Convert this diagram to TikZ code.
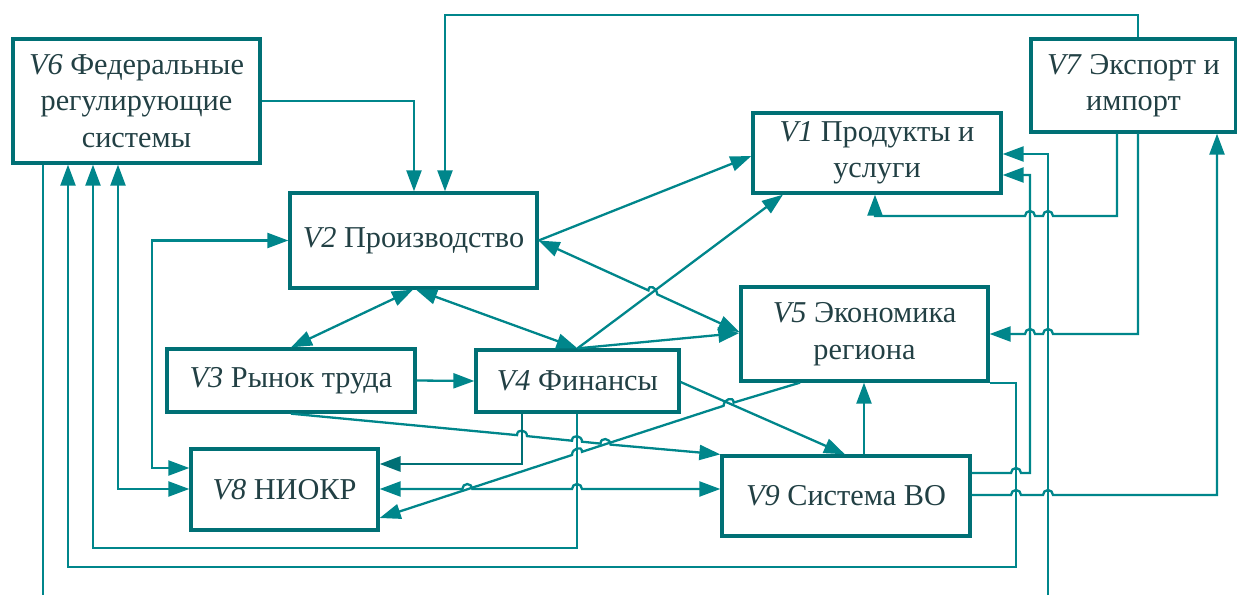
\documentclass[tikz,border=0pt]{standalone}
\usepackage{fontspec}
\setmainfont{Liberation Serif}
\usetikzlibrary{arrows.meta}
\definecolor{ln}{RGB}{0,134,139}
\definecolor{bx}{RGB}{0,112,117}
\definecolor{tx}{RGB}{34,64,68}
\begin{document}
\begin{tikzpicture}[x=1pt,y=-1pt,
  >={Triangle[length=21pt,width=15pt]},
  box/.style={draw=bx, line width=3.3pt, text=tx, align=center, inner sep=0pt,
    font=\fontsize{30.3}{36.5}\selectfont},
  conn/.style={draw=ln, fill=none, line width=2.3pt}]
\useasboundingbox (0,0) rectangle (1237,595);
\node[box, minimum width=247pt, minimum height=124pt] (V6) at (136.5,101) {\textit{V6} Федеральные\\регулирующие\\системы};
\node[box, minimum width=247pt, minimum height=95pt] (V2) at (413.5,240.5) {\textit{V2} Производство};
\node[box, minimum width=248pt, minimum height=80pt] (V1) at (877,153) {\textit{V1} Продукты и\\услуги};
\node[box, minimum width=205pt, minimum height=93pt] (V7) at (1133.5,85.5) {\textit{V7} Экспорт и\\импорт};
\node[box, minimum width=247pt, minimum height=94pt] (V5) at (864.5,334) {\textit{V5} Экономика\\региона};
\node[box, minimum width=248pt, minimum height=63pt] (V3) at (291,380.5) {\textit{V3} Рынок труда};
\node[box, minimum width=203pt, minimum height=62pt] (V4) at (577.5,381) {\textit{V4} Финансы};
\node[box, minimum width=187pt, minimum height=81pt] (V8) at (284.5,489.5) {\textit{V8} НИОКР};
\node[box, minimum width=248pt, minimum height=80pt] (V9) at (846,496) {\textit{V9} Система ВО};
\coordinate (out1) at (43,595);
\coordinate (in1) at (1048,595);
% top connectors
\draw[conn,->] (V6.east |- 0,101) -| (V2.north -| 414,0);
\draw[conn,->] (V7.north -| 1138,0) |- (445,15) -- (V2.north -| 445,0);
% V2 links
\draw[conn,->] (V2.east) -- (V1.west |- 0,156);
\draw[conn,<->] (V2.east) -- (648.4,290.4) .. controls +(0,-6.7) and +(0,-6.7) .. (657.4,294.4) -- (V5.west |- 0,332);
\draw[conn,<->] (V2.south -| 413,0) -- (V3.north);
\draw[conn,<->] (V2.south -| 416,0) -- (V4.north);
% V4 links
\draw[conn,->] (V4.north) -- (V1.south -| 783,0);
\draw[conn,->] (V4.north) -- (V5.west |- 0,333);
\draw[conn,->] (V3.east) -- (V4.west);
\draw[conn,->] (V3.south) -- (517,435.1) .. controls +(0,-6.7) and +(0,-6.7) .. (527,436.1)
  -- (572,440.7) .. controls +(0,-6.7) and +(0,-6.7) .. (582,441.7)
  -- (600.5,443.6) .. controls +(0,-6.7) and +(0,-6.7) .. (610.5,444.6) -- (V9.north west);
\draw[conn,->,draw=bx,line width=2.9pt] (V4.south -| 522,0) |- (V8.east |- 0,464);
\draw[conn,<->] (V8.east |- 0,489) -- (462.3,489) arc[start angle=180,end angle=360,radius=5]
  -- (572,489) arc[start angle=180,end angle=360,radius=5] -- (V9.west |- 0,489);
\draw[conn,->] (V5.south -| 800,0) -- (733.6,402.6) .. controls +(0,-6.7) and +(0,-6.7) .. (723.6,405.8)
  -- (582,451.8) .. controls +(0,-6.7) and +(0,-6.7) .. (572,455.0) -- (V8.east |- 0,518);
\draw[conn,->] (V4.east |- 0,382) -- (V9.north -| 845,0);
\draw[conn,->] (V9.north -| 864,0) -- (V5.south -| 864,0);
% feedback to V6
\draw[conn,->] (V4.south -| 577,0) -- (577,548) -| (V6.south -| 93,0);
\draw[conn,->] (V5.south east) -| (1016,567) -| (V6.south -| 68,0);
\draw[conn] (V6.south -| 43,0) -- (out1);
\draw[conn,<->] (V2.west) -| (152,468) -- (V8.west |- 0,468);
\draw[conn,<->] (V6.south -| 118,0) |- (V8.west |- 0,489);
% right side
\draw[conn,->] (V7.south -| 1117,0) |- (1053,216) arc[start angle=0,end angle=-180,radius=5]
  -- (1035,216) arc[start angle=0,end angle=-180,radius=5] -- (875,216) -- (V1.south -| 875,0);
\draw[conn,->] (V7.south -| 1138,0) |- (1053,334) arc[start angle=0,end angle=-180,radius=5]
  -- (1035,334) arc[start angle=0,end angle=-180,radius=5] -- (V5.east |- 0,334);
\draw[conn,->] (V9.east |- 0,473) -- (1011,473) arc[start angle=180,end angle=360,radius=5]
  -- (1030,473) -- (1030,175) -- (V1.east |- 0,175);
\draw[conn,->] (in1) |- (V1.east |- 0,154);
\draw[conn,->] (V9.east |- 0,495) -- (1011,495) arc[start angle=180,end angle=360,radius=5]
  -- (1043,495) arc[start angle=180,end angle=360,radius=5] -- (1217,495) -- (V7.south -| 1217,0);
\end{tikzpicture}
\end{document}
